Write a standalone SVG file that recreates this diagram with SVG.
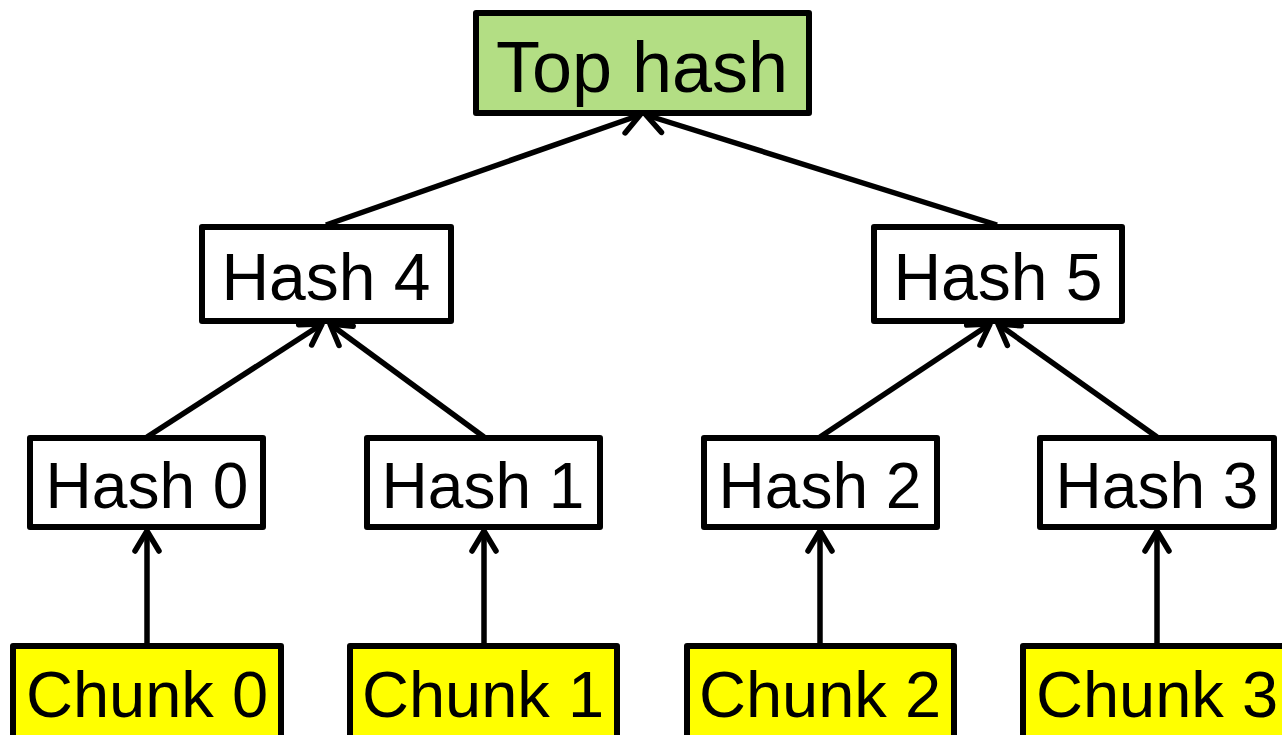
<svg xmlns="http://www.w3.org/2000/svg" width="1282" height="735" viewBox="0 0 1282 735">
<defs>
<marker id="arr" markerUnits="userSpaceOnUse" markerWidth="40" markerHeight="40" viewBox="-30 -20 40 40" refX="0" refY="0" orient="auto" overflow="visible">
<path d="M-20,-12 L0,0 L-20,12" fill="none" stroke="#000" stroke-width="5.5" stroke-linecap="round" stroke-linejoin="round"/>
</marker>
</defs>
<style>
.n rect{stroke:#000;stroke-width:6;stroke-linejoin:round}
.w{fill:#fff}
.g{fill:#b3de84}
.y{fill:#ffff00}
text{font-family:"Liberation Sans",Arial,sans-serif;fill:#000;text-anchor:middle}
.c line{stroke:#000;stroke-width:5.5;marker-end:url(#arr)}
</style>
<rect x="0" y="0" width="1282" height="735" fill="#fff"/>
<g class="c" id="connectors">
<line x1="326" y1="225" x2="640" y2="115"/>
<line x1="997" y1="225" x2="646" y2="115"/>
<line x1="147" y1="437" x2="322" y2="324"/>
<line x1="484" y1="437" x2="330" y2="324"/>
<line x1="820" y1="437" x2="990" y2="324"/>
<line x1="1157" y1="437" x2="998" y2="324"/>
<line x1="147" y1="646" x2="147" y2="531"/>
<line x1="484" y1="646" x2="484" y2="531"/>
<line x1="820" y1="646" x2="820" y2="531"/>
<line x1="1157" y1="646" x2="1157" y2="531"/>
</g>
<g class="n" id="top"><rect class="g" x="476" y="13" width="333" height="100"/><text x="642" y="92" font-size="72">Top hash</text></g>
<g class="n" id="hash4"><rect class="w" x="202" y="227" width="249" height="94"/><text x="326" y="300" font-size="66">Hash 4</text></g>
<g class="n" id="hash5"><rect class="w" x="874" y="227" width="248" height="94"/><text x="998" y="300" font-size="66">Hash 5</text></g>
<g class="n" id="hash0"><rect class="w" x="30" y="438" width="233" height="89"/><text x="147" y="508" font-size="64">Hash 0</text></g>
<g class="n" id="hash1"><rect class="w" x="367" y="438" width="233" height="89"/><text x="483" y="508" font-size="64">Hash 1</text></g>
<g class="n" id="hash2"><rect class="w" x="704" y="438" width="233" height="89"/><text x="820" y="508" font-size="64">Hash 2</text></g>
<g class="n" id="hash3"><rect class="w" x="1040" y="438" width="234" height="89"/><text x="1157" y="508" font-size="64">Hash 3</text></g>
<g class="n" id="chunk0"><rect class="y" x="13" y="646" width="268" height="100"/><text x="147" y="717" font-size="65">Chunk 0</text></g>
<g class="n" id="chunk1"><rect class="y" x="350" y="646" width="267" height="100"/><text x="483" y="717" font-size="65">Chunk 1</text></g>
<g class="n" id="chunk2"><rect class="y" x="687" y="646" width="267" height="100"/><text x="820" y="717" font-size="65">Chunk 2</text></g>
<g class="n" id="chunk3"><rect class="y" x="1023" y="646" width="268" height="100"/><text x="1157" y="717" font-size="65">Chunk 3</text></g>
</svg>
